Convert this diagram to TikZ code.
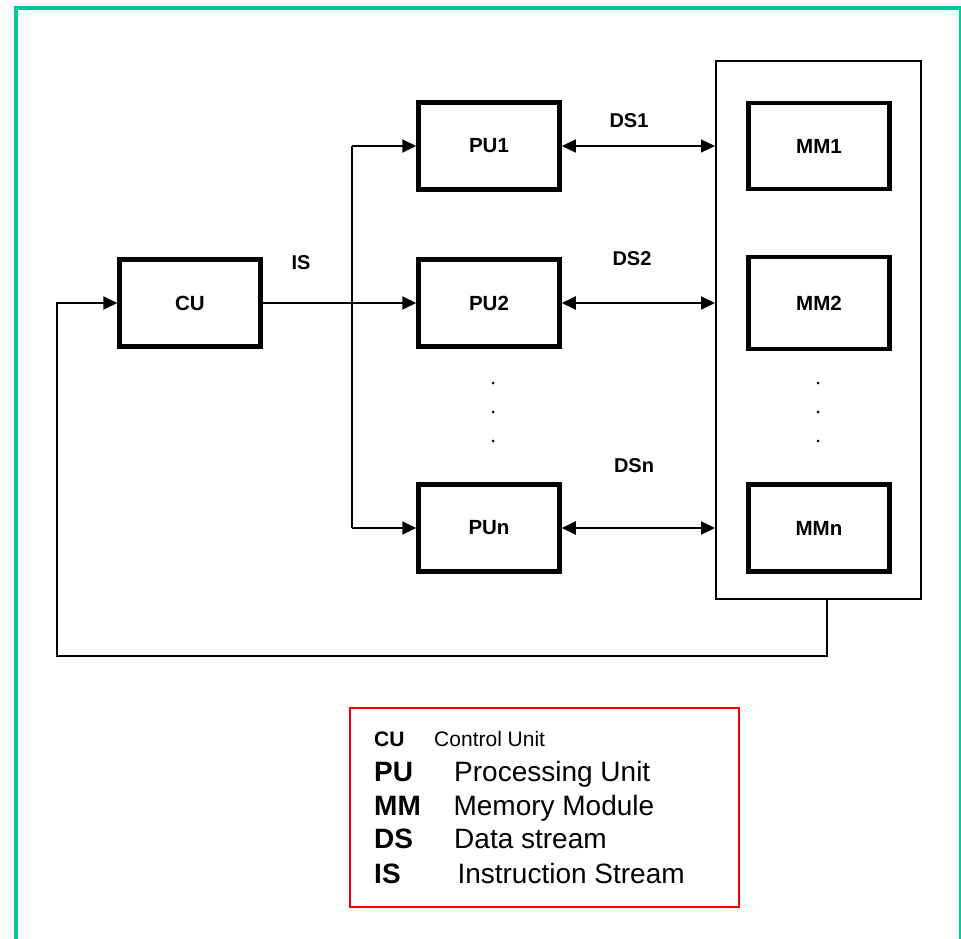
\documentclass[tikz,border=0pt]{standalone}
\usepackage{fontspec}
\setmainfont{Liberation Sans}
\usetikzlibrary{arrows.meta,positioning}
\definecolor{framegreen}{RGB}{0,204,153}
\definecolor{legendred}{RGB}{240,0,0}

\begin{document}
\begin{tikzpicture}[x=1pt,y=-1pt,
    unit/.style={draw,line width=4.5pt,minimum width=141pt,minimum height=87pt,
      font=\bfseries\fontsize{20.5}{24}\selectfont},
    lbl/.style={font=\bfseries\fontsize{20}{24}\selectfont},
    tip/.tip={Triangle[length=14pt,width=13pt]},
    flow/.style={line width=2pt,-tip},
    dflow/.style={line width=2pt,tip-tip},
    bus/.style={line width=1.3pt},
    keybig/.style={anchor=base west,font=\fontsize{28}{32}\selectfont},
    keysmall/.style={anchor=base west,font=\fontsize{21}{24}\selectfont}]
  \useasboundingbox (0,0) rectangle (961,939);
  % green page frame
  \draw[framegreen,line width=4pt] (16,8) rectangle (961,960);

  % units
  \node[unit] (cu) at (190,303) {CU};
  \node[unit] (pu1) at (489,146) {PU1};
  \node[unit] (pu2) at (489,303) {PU2};
  \node[unit] (pun) at (489,528) {PUn};
  \node[draw,line width=2pt,minimum width=205pt,minimum height=538pt] (mem) at (818.5,330) {};
  \node[unit,minimum height=86pt] (mm1) at (819,146) {MM1};
  \node[unit,minimum height=92pt] (mm2) at (819,303) {MM2};
  \node[unit] (mmn) at (819,528) {MMn};

  % dots
  \foreach \y in {383,412,441} {
    \fill (493,\y) circle (1.5pt);
    \fill (818,\y) circle (1.5pt);
  }

  % instruction stream
  \coordinate (bustop) at (352,146);
  \coordinate (busbot) at (352,528);
  \draw[bus] (bustop) -- (busbot);
  \draw[flow] (bustop) -- (pu1.west);
  \draw[flow] (busbot) -- (pun.west);
  \draw[flow] (cu.east) -- (pu2.west);
  \node[lbl] (is) at (301,263) {IS};

  % data streams
  \draw[line width=1.2pt,tip-tip] (pu1.east) -- (mem.west |- pu1.east);
  \draw[dflow] (pu2.east) -- (mem.west |- pu2.east);
  \draw[dflow] (pun.east) -- (mem.west |- pun.east);
  \node[lbl] (ds1) at (629,121) {DS1};
  \node[lbl] (ds2) at (632,259) {DS2};
  \node[lbl] (dsn) at (634,466) {DSn};

  % feedback to CU
  \coordinate (fb) at (57,656);
  \draw[flow] ([xshift=8pt]mem.south) |- (fb) |- (cu.west);

  % legend
  \node[draw=legendred,line width=1.5pt,minimum width=389pt,minimum height=199pt] (legend) at (544.5,807.5) {};
  \node[keysmall] (kcu) at (370.7,746.7) {\bfseries CU};
  \node[keysmall] (tcu) at (430.7,746.7) {Control Unit};
  \node[keybig] (kpu) at (370.7,781.7) {\bfseries PU};
  \node[keybig] (tpu) at (450.7,781.7) {Processing Unit};
  \node[keybig] (kmm) at (370.7,815) {\bfseries MM};
  \node[keybig] (tmm) at (450,815) {Memory Module};
  \node[keybig] (kds) at (370.7,848.3) {\bfseries DS};
  \node[keybig] (tds) at (450.7,848.3) {Data stream};
  \node[keybig] (kis) at (370.7,883.3) {\bfseries IS};
  \node[keybig] (tis) at (454,883.3) {Instruction Stream};
\end{tikzpicture}
\end{document}
